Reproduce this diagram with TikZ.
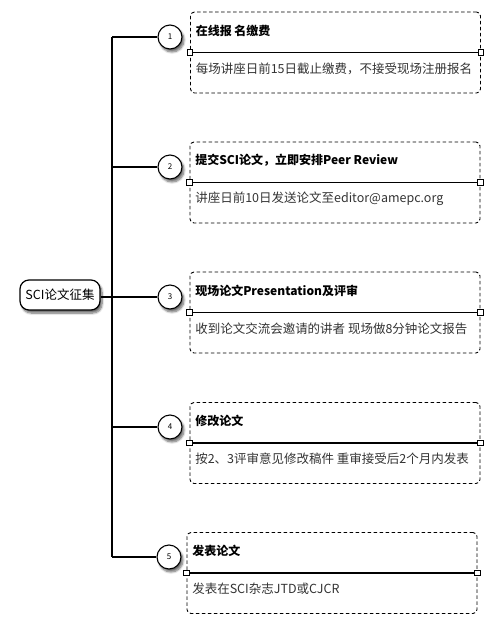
\documentclass[tikz,border=0pt]{standalone}
\usepackage{fontspec}
\setmainfont{Noto Sans CJK SC}
\usetikzlibrary{shadows.blur}

\tikzset{
  softshadow/.style={blur shadow={shadow xshift=2pt, shadow yshift=-3pt, shadow blur steps=7, shadow opacity=60}},
  rootbox/.style={draw, line width=1.2pt, rounded corners=9pt, fill=white, minimum width=80pt, minimum height=30pt, inner sep=0pt, font=\fontsize{12.5}{14}\selectfont, softshadow},
  stepcircle/.style={circle, draw, line width=1.1pt, fill=white, minimum size=24pt, inner sep=0pt, font=\fontsize{8}{9}\selectfont, softshadow},
  infobox/.style={draw, line width=0.9pt, dash pattern=on 3.5pt off 2.5pt, rounded corners=4pt, minimum width=290pt, minimum height=81pt, inner sep=0pt},
  divider/.style={line width=1.2pt},
  handle/.style={draw, fill=white, line width=0.8pt, minimum size=5.5pt, inner sep=0pt},
  titletext/.style={anchor=west, inner sep=0pt, font=\bfseries\fontsize{12}{14}\selectfont},
  desctext/.style={anchor=west, inner sep=0pt, text=black!80, font=\fontsize{12.5}{14}\selectfont},
  branch/.style={line width=1.1pt}
}

\begin{document}
\begin{tikzpicture}[x=1pt,y=-1pt]
	\useasboundingbox (0,0) rectangle (500,625);
	\coordinate (trunk) at (112,0);

	% root
	\node[rootbox] (root) at (60,295) {SCI论文征集};

	% steps
	\node[stepcircle] (c1) at (170,37) {1};
	\node[stepcircle] (c2) at (170,167) {2};
	\node[stepcircle] (c3) at (170,297) {3};
	\node[stepcircle] (c4) at (170,427) {4};
	\node[stepcircle] (c5) at (169,557) {5};

	% connectors
	\draw[branch] (root.east |- c3) -- (c3.west);
	\draw[branch] (c1.west -| trunk) -- (c5.west -| trunk);
	\draw[branch] (c1.west -| trunk) -- (c1.west);
	\draw[branch] (c2.west -| trunk) -- (c2.west);
	\draw[branch] (c4.west -| trunk) -- (c4.west);
	\draw[branch] (c5.west -| trunk) -- (c5.west);

	% boxes
	\node[infobox] (b1) at (335.5,52.5) {};
	\node[infobox] (b2) at (335,182.5) {};
	\node[infobox] (b3) at (335,312.5) {};
	\node[infobox] (b4) at (335,443) {};
	\node[infobox] (b5) at (332,573) {};

	\draw[divider] (b1.west) -- (b1.east);
	\draw[divider] (b2.west) -- (b2.east);
	\draw[divider] (b3.west) -- (b3.east);
	\draw[divider] (b4.west) -- (b4.east);
	\draw[divider] (b5.west) -- (b5.east);
	\node[handle] (h1l) at (b1.west) {};
	\node[handle] (h1r) at (b1.east) {};
	\node[handle] (h2l) at (b2.west) {};
	\node[handle] (h2r) at (b2.east) {};
	\node[handle] (h3l) at (b3.west) {};
	\node[handle] (h3r) at (b3.east) {};
	\node[handle] (h4l) at (b4.west) {};
	\node[handle] (h4r) at (b4.east) {};
	\node[handle] (h5l) at (b5.west) {};
	\node[handle] (h5r) at (b5.east) {};

	% texts
	\node[titletext] (t1) at ([shift={(5.5,19)}]b1.north west) {在线报 名缴费};
	\node[desctext] (d1) at ([shift={(5.5,57)}]b1.north west) {每场讲座日前15日截止缴费，不接受现场注册报名};
	\node[titletext] (t2) at ([shift={(5.5,19)}]b2.north west) {提交SCI论文，立即安排Peer Review};
	\node[desctext] (d2) at ([shift={(5.5,57)}]b2.north west) {讲座日前10日发送论文至editor@amepc.org};
	\node[titletext] (t3) at ([shift={(5.5,19)}]b3.north west) {现场论文Presentation及评审};
	\node[desctext] (d3) at ([shift={(5.5,57)}]b3.north west) {收到论文交流会邀请的讲者 现场做8分钟论文报告};
	\node[titletext] (t4) at ([shift={(5.5,19)}]b4.north west) {修改论文};
	\node[desctext] (d4) at ([shift={(5.5,57)}]b4.north west) {按2、3评审意见修改稿件 重审接受后2个月内发表};
	\node[titletext] (t5) at ([shift={(5.5,19)}]b5.north west) {发表论文};
	\node[desctext] (d5) at ([shift={(5.5,57)}]b5.north west) {发表在SCI杂志JTD或CJCR};
\end{tikzpicture}
\end{document}
